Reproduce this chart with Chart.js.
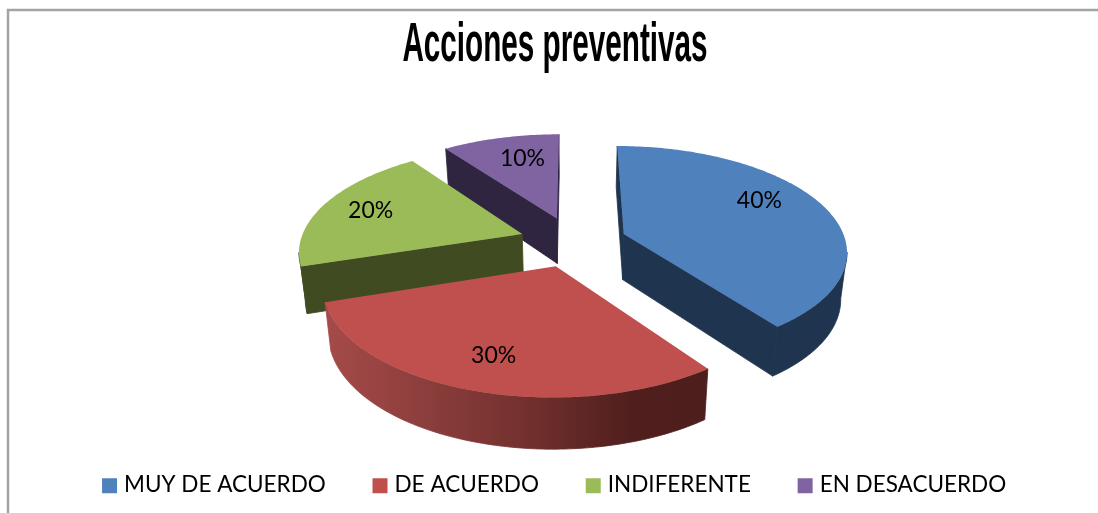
<!DOCTYPE html>
<html><head><meta charset="utf-8">
<style>html,body{margin:0;padding:0;background:#fff;overflow:hidden}canvas{display:block}</style>
<script src="https://cdn.jsdelivr.net/npm/chart.js@4/dist/chart.umd.js"></script>
</head><body><canvas id="c" width="1098" height="513"></canvas>
<script>
const titleText = 'Acciones preventivas';
const categories = ['MUY DE ACUERDO', 'DE ACUERDO', 'INDIFERENTE', 'EN DESACUERDO'];
const values = [40, 30, 20, 10];
const topColors = ['#4F81BD', '#C0504D', '#9BBB59', '#8064A2'];
const sideColors = ['#1F344E', '#4A1D1B', '#404B22', '#302541'];

const view = {nudgeX: 24, nudgeY: -16, tilt: 0.465, persp: 0.15, depth: 46, shrink: 0.977};
const labelPlace = [{f: .75, da: -10}, {f: .75, da: 0}, {f: .76, da: 0}, {f: .71, da: 3}];

class Arc3D extends Chart.ArcElement {
  static id = 'arc3d';
  project(angle, rf, low) {
    const R = this.outerRadius, mid = (this.startAngle + this.endAngle) / 2, d = this.options.offset || 0;
    const X = d * Math.cos(mid) + rf * R * Math.cos(angle);
    const Y = d * Math.sin(mid) + rf * R * Math.sin(angle);
    const k = 1 / (1 - view.persp * Y / R);
    const cx = this.x + view.nudgeX, cy = this.y + view.nudgeY;
    if (low) return [cx + X * k * view.shrink, cy + Y * view.tilt * k + view.depth * (1 + .1 * Y / R)];
    return [cx + X * k, cy + Y * view.tilt * k];
  }
  draw(ctx) {
    const a0 = this.startAngle, a1 = this.endAngle, n = Math.max(8, Math.round((a1 - a0) * 60));
    const angles = []; for (let i = 0; i <= n; i++) angles.push(a0 + (a1 - a0) * i / n);
    const poly = (pts, fill, seal) => {
      ctx.beginPath(); pts.forEach((p, i) => i ? ctx.lineTo(p[0], p[1]) : ctx.moveTo(p[0], p[1]));
      ctx.closePath(); ctx.fillStyle = fill; ctx.fill();
      if (seal) { ctx.strokeStyle = fill; ctx.lineWidth = .8; ctx.stroke(); }
    };
    const side = sideColors[this.$index];
    const apexT = this.project(a0, 0), apexB = this.project(a0, 0, true);
    const face = (A, B, Ab, Bb) => { if (B[0] < A[0]) poly([A, B, Bb, Ab], side, true); };
    // radial cut faces
    face(apexT, this.project(a0, 1), apexB, this.project(a0, 1, true));
    face(this.project(a1, 1), apexT, this.project(a1, 1, true), apexB);
    // outer wall: only the part that faces the viewer
    const up = [], dn = [];
    for (let i = 0; i < n; i++) {
      const A = this.project(angles[i], 1), B = this.project(angles[i + 1], 1);
      if (B[0] < A[0]) {
        if (!up.length) { up.push(A); dn.push(this.project(angles[i], 1, true)); }
        up.push(B); dn.push(this.project(angles[i + 1], 1, true));
      }
    }
    if (up.length) {
      let fill = side;
      if (this.$index === 1) {
        fill = ctx.createLinearGradient(up[up.length - 1][0], 0, up[0][0], 0);
        fill.addColorStop(0, '#A54B49'); fill.addColorStop(.5, '#753230'); fill.addColorStop(.8, '#501F1D'); fill.addColorStop(1, '#4E1E1C');
      }
      poly(up.concat(dn.reverse()), fill, true);
    }
    // top surface
    poly([apexT].concat(angles.map(a => this.project(a, 1))), this.options.backgroundColor);
  }
}
class Pie3D extends Chart.PieController {
  static id = 'pie3d';
  static defaults = {dataElementType: 'arc3d'};
  draw() {
    const ctx = this.chart.ctx, arcs = this._cachedMeta.data.slice();
    arcs.forEach((a, i) => a.$index = i);
    const depth = a => Math.sin((a.startAngle + a.endAngle) / 2);
    arcs.sort((p, q) => depth(p) - depth(q)).forEach(a => a.draw(ctx));
  }
}
Chart.register(Arc3D, Pie3D);

const shiftBlock = (chart, block, dx, dy, sx, cxRef, boxShift) => {
  if (!block || block.$shifted) return;
  block.$shifted = true;
  const orig = block.draw;
  block.draw = function () {
    const ctx = chart.ctx; ctx.save();
    ctx.translate(cxRef + dx, dy); ctx.scale(sx, 1); ctx.translate(-cxRef, 0);
    if (boxShift) {
      const r = CanvasRenderingContext2D.prototype.rect;
      ctx.rect = function (x, y, w, h) { return r.call(ctx, x + boxShift, y + 1, w, h); };
    }
    orig.call(this);
    delete ctx.rect;
    ctx.restore();
  };
};
const framePlugin = {
  id: 'frame',
  beforeDraw(chart) {
    shiftBlock(chart, chart.titleBlock, 6, 2, 0.53, chart.width / 2);
    shiftBlock(chart, chart.legend, 3, -7, 1, chart.width / 2, 4.25);
    const ctx = chart.ctx; ctx.save();
    ctx.strokeStyle = '#A3A3A3'; ctx.lineWidth = 2.5; ctx.beginPath();
    ctx.moveTo(8, chart.height); ctx.lineTo(8, 10); ctx.lineTo(chart.width, 10); ctx.stroke(); ctx.restore();
  }
};
const labelPlugin = {
  id: 'pctLabels',
  afterDatasetsDraw(chart) {
    const ctx = chart.ctx; ctx.save();
    ctx.font = '23px Lato'; ctx.fillStyle = '#000'; ctx.textAlign = 'center'; ctx.textBaseline = 'middle';
    chart.getDatasetMeta(0).data.forEach((a, i) => {
      const mid = (a.startAngle + a.endAngle) / 2 + labelPlace[i].da * Math.PI / 180;
      const p = a.project(mid, labelPlace[i].f);
      ctx.fillText(values[i] + '%', p[0], p[1]);
    });
    ctx.restore();
  }
};
new Chart(document.getElementById('c'), {
  type: 'pie3d',
  data: {labels: categories, datasets: [{data: values, backgroundColor: topColors, borderWidth: 0, offset: 54}]},
  plugins: [framePlugin, labelPlugin],
  options: {
    responsive: false, animation: false, events: [], radius: 222,
    layout: {padding: 0},
    plugins: {
      tooltip: {enabled: false},
      title: {display: true, text: titleText, color: '#000', padding: {top: 10, bottom: 0}, font: {family: 'Liberation Sans', weight: 'bold', size: 56}},
      legend: {position: 'bottom', labels: {color: '#000', boxWidth: 15, boxHeight: 15, padding: 42.5, font: {family: 'Lato', size: 22.5}}}
    }
  }
});
</script></body></html>
